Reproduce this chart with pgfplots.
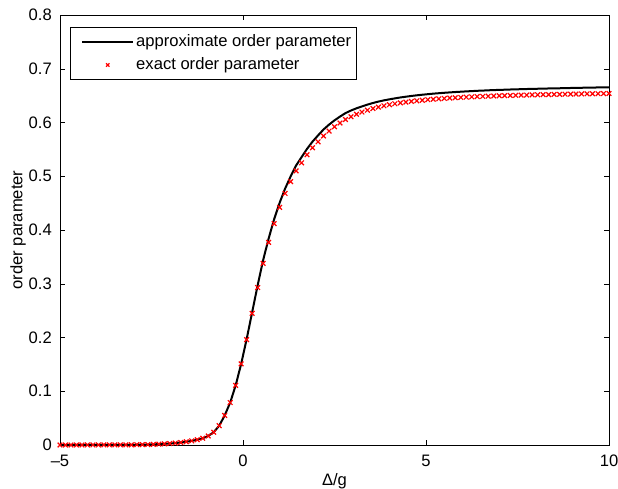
\documentclass[border=0pt]{standalone}
\usepackage{fontspec}
\setmainfont{Liberation Sans}
\usepackage{pgfplots}
\pgfplotsset{compat=1.18}
\usepackage{pgfplotstable}
\pgfplotsset{
  legline/.style={legend image code/.code={\draw[##1] (0pt,0pt) -- (51pt,0pt);}},
  legmark/.style={legend image code/.code={\draw[white, line width=0.3pt] (0pt,0pt) -- (51pt,0pt);
    \draw[##1] plot[only marks, mark size=2.4pt] coordinates {(25.5pt,0pt)};}},
}
\pgfplotstableread{
x exact approx
-5.00 0.0000 0.0000
-4.85 0.0000 0.0000
-4.70 0.0000 0.0000
-4.55 0.0001 0.0001
-4.40 0.0001 0.0001
-4.25 0.0001 0.0001
-4.10 0.0001 0.0001
-3.95 0.0001 0.0001
-3.80 0.0002 0.0002
-3.65 0.0002 0.0002
-3.50 0.0002 0.0002
-3.35 0.0003 0.0003
-3.20 0.0003 0.0003
-3.05 0.0004 0.0004
-2.90 0.0005 0.0005
-2.75 0.0007 0.0007
-2.60 0.0009 0.0009
-2.45 0.0012 0.0012
-2.30 0.0016 0.0016
-2.15 0.0021 0.0021
-2.00 0.0028 0.0028
-1.85 0.0036 0.0036
-1.70 0.0047 0.0047
-1.55 0.0060 0.0060
-1.40 0.0077 0.0077
-1.25 0.0098 0.0098
-1.10 0.0126 0.0126
-0.95 0.0168 0.0168
-0.80 0.0238 0.0238
-0.65 0.0360 0.0360
-0.50 0.0550 0.0550
-0.35 0.0790 0.0790
-0.20 0.1110 0.1110
-0.05 0.1510 0.1510
0.10 0.1960 0.1970
0.25 0.2450 0.2470
0.40 0.2930 0.2970
0.55 0.3380 0.3440
0.70 0.3770 0.3840
0.85 0.4120 0.4200
1.00 0.4420 0.4505
1.15 0.4680 0.4770
1.30 0.4900 0.4995
1.45 0.5100 0.5200
1.60 0.5250 0.5355
1.75 0.5400 0.5510
1.90 0.5530 0.5645
2.05 0.5640 0.5760
2.20 0.5750 0.5870
2.35 0.5840 0.5960
2.50 0.5920 0.6040
2.65 0.5990 0.6110
2.80 0.6055 0.6175
2.95 0.6108 0.6223
3.10 0.6154 0.6264
3.25 0.6194 0.6299
3.40 0.6229 0.6333
3.55 0.6260 0.6363
3.70 0.6287 0.6389
3.85 0.6311 0.6412
4.00 0.6331 0.6431
4.15 0.6349 0.6449
4.30 0.6365 0.6466
4.45 0.6379 0.6480
4.60 0.6392 0.6494
4.75 0.6404 0.6506
4.90 0.6414 0.6517
5.05 0.6424 0.6527
5.20 0.6433 0.6537
5.35 0.6441 0.6545
5.50 0.6448 0.6553
5.65 0.6455 0.6560
5.80 0.6461 0.6567
5.95 0.6467 0.6573
6.10 0.6472 0.6579
6.25 0.6477 0.6584
6.40 0.6482 0.6590
6.55 0.6486 0.6594
6.70 0.6490 0.6599
6.85 0.6494 0.6603
7.00 0.6497 0.6607
7.15 0.6500 0.6610
7.30 0.6503 0.6614
7.45 0.6506 0.6617
7.60 0.6509 0.6620
7.75 0.6511 0.6623
7.90 0.6514 0.6626
8.05 0.6516 0.6628
8.20 0.6518 0.6631
8.35 0.6520 0.6633
8.50 0.6522 0.6635
8.65 0.6524 0.6637
8.80 0.6526 0.6640
8.95 0.6528 0.6642
9.10 0.6530 0.6644
9.25 0.6532 0.6646
9.40 0.6534 0.6649
9.55 0.6535 0.6650
9.70 0.6537 0.6652
9.85 0.6538 0.6653
10.00 0.6540 0.6655
}\datatable

\begin{document}
\fontsize{16.6}{19}\selectfont
\begin{tikzpicture}
\path[use as bounding box] (0,0) rectangle (618pt,488pt);
\begin{axis}[
  at={(60pt,43pt)}, anchor=south west,
  scale only axis, width=549pt, height=430pt,
  xmin=-5, xmax=10, ymin=0, ymax=0.8,
  clip=false,
  xtick={-5,0,5,10}, xticklabels={–5,0,5,10},
  ytick={0,0.1,0.2,0.3,0.4,0.5,0.6,0.7,0.8},
  yticklabels={0,0.1,0.2,0.3,0.4,0.5,0.6,0.7,0.8},
  minor tick num=0,
  tick align=inside, tick pos=both, major tick length=5pt,
  every tick/.style={black, line width=0.5pt},
  axis line style={line width=0.6pt},
  every tick label/.append style={inner sep=0pt, font=\fontsize{16.6}{19}\selectfont},
  xticklabel style={anchor=north, yshift=-10pt},
  yticklabel style={anchor=east, xshift=-8pt},
  xlabel={Δ/g}, ylabel={order parameter},
  label style={font=\fontsize{16.6}{19}\selectfont, inner sep=0pt},
  xlabel style={at={(axis description cs:0.5,-0.0651)}, anchor=north},
  ylabel style={at={(axis description cs:-0.0765,0.5)}, anchor=center},
  legend style={at={(axis description cs:0.0182,0.972)}, anchor=north west,
    draw=black, line width=0.5pt, inner xsep=11pt, inner ysep=5pt, row sep=5pt,
    font=\fontsize{16.6}{19}\selectfont,
    /tikz/every even column/.append style={column sep=6pt}},
  legend cell align=left,
]
\addplot[black, line width=2pt, no marks, legline]
  table[x=x, y=approx] {\datatable};
\addlegendentry{approximate order parameter\hspace*{-8pt}}
\addplot[red, only marks, mark=x, mark size=3.3pt, mark options={line width=1.2pt}, legmark]
  table[x=x, y=exact] {\datatable};
\addlegendentry{exact order parameter}
\end{axis}
\end{tikzpicture}
\end{document}
